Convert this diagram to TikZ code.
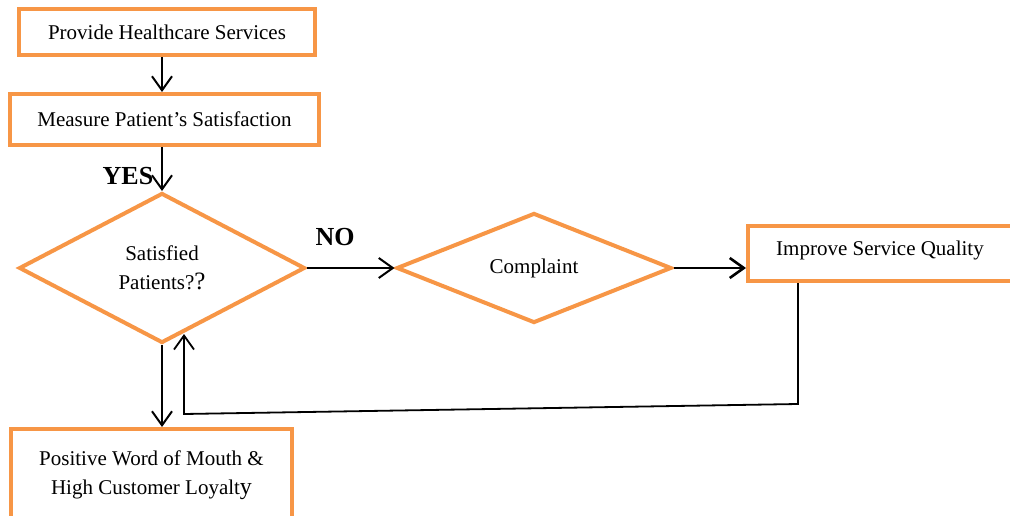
\documentclass[tikz,border=0pt]{standalone}
\usepackage{fontspec}
\setmainfont{Liberation Serif}
\usetikzlibrary{shapes.geometric,arrows.meta}
\definecolor{boxorange}{RGB}{247,150,70}
\begin{document}
\begin{tikzpicture}[x=1pt,y=-1pt,
  box/.style={draw=boxorange, line width=4pt, rectangle, inner sep=0pt,
    font=\fontsize{21}{29.5}\selectfont, align=center},
  dia/.style={draw=boxorange, line width=4pt, diamond, inner sep=0pt,
    font=\fontsize{21}{29.5}\selectfont, align=center},
  arr/.style={draw=black, line width=2pt, -{Straight Barb[length=14pt,width=20pt]}},
  lbl/.style={font=\fontsize{26}{26}\selectfont\bfseries, inner sep=0pt}]
\useasboundingbox (0,0) rectangle (1010,516);
\clip (0,0) rectangle (1010,516);
\node[box, minimum width=296pt, minimum height=46pt] (b1) at (167,32) {Provide Healthcare Services};
\node[box, minimum width=309pt, minimum height=51pt] (b2) at (164.5,119.5) {Measure Patient’s Satisfaction};
\node[dia, minimum width=286pt, minimum height=150pt] (d1) at (162,268) {Satisfied\\Patients?{\fontsize{25}{29.5}\selectfont ?}};
\node[dia, minimum width=275pt, minimum height=110pt] (d2) at (534,268) {Complaint};
\node[box, minimum width=264pt, minimum height=55pt, text height=15pt, text depth=12pt] (imp) at (880,253.5) {Improve Service Quality};
\node[box, minimum width=281pt, minimum height=92pt] (pos) at (151.5,475) {Positive Word of Mouth \&\\High Customer Loyalt{\fontsize{24}{29.5}\selectfont y}};
\node[lbl] (yes) at (128,176) {YES};
\node[lbl] (no) at (335,237) {NO};
\draw[arr] (b1.south -| d1.north) -- (b2.north -| d1.north);
\draw[arr] (b2.south -| d1.north) -- (d1.north);
\draw[arr] (d1.east) -- (d2.west);
\draw[arr, line width=2.6pt] (d2.east) -- (d2.east -| imp.west);
\draw[arr] (d1.south) -- (pos.north -| d1.south);
\coordinate (fbA) at (798,404);
\coordinate (fbB) at (184,414);
\coordinate (fbC) at (184,334);
\draw[arr, line width=1.8pt] (imp.south -| fbA) -- (fbA) -- (fbB) -- (fbC);
\end{tikzpicture}
\end{document}
